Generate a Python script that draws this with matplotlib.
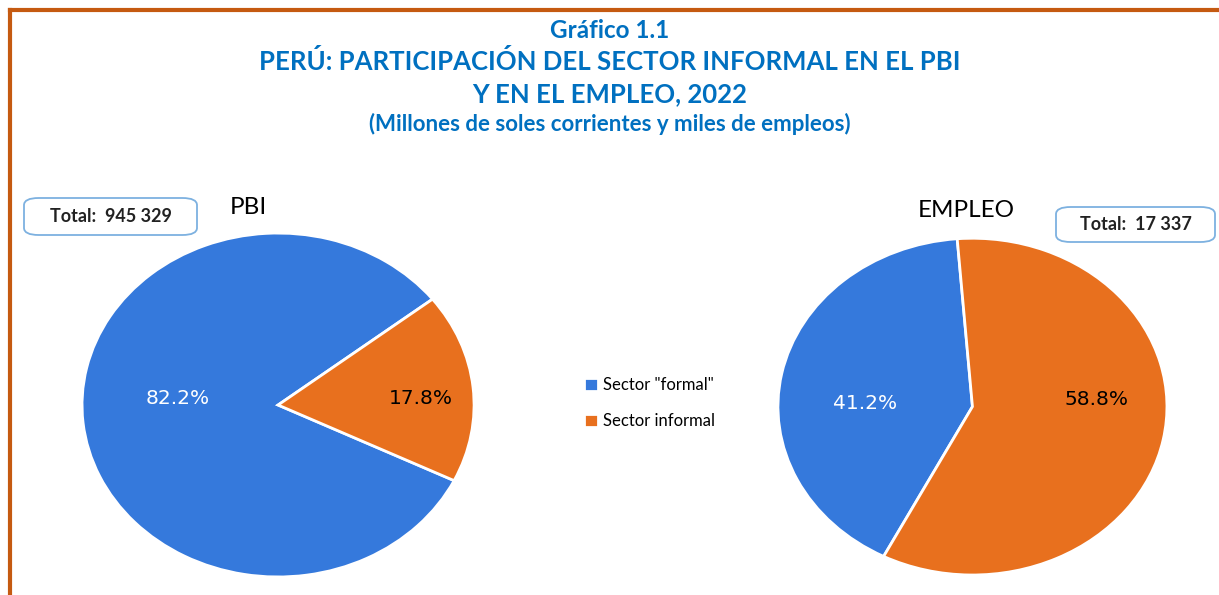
import matplotlib.pyplot as plt
from matplotlib.patches import FancyBboxPatch
from matplotlib.lines import Line2D

# datos
sectores = ['Sector "formal"', 'Sector informal']
pbi_pct = [82.2, 17.8]
empleo_pct = [41.2, 58.8]
pbi_total = "945 329"
empleo_total = "17 337"

colores = ['#3579DC', '#E8701E']
azul_titulo = '#0070C0'
naranja_borde = '#C55A11'

fig = plt.figure(figsize=(12.19, 5.95), dpi=100)

# marco naranja (izquierda y arriba)
fig.add_artist(Line2D([0.0082, 0.0082], [0, 0.983], color=naranja_borde, lw=3, transform=fig.transFigure))
fig.add_artist(Line2D([0.0082, 1.0], [0.983, 0.983], color=naranja_borde, lw=3, transform=fig.transFigure))

# titulos
fig.text(0.5, 0.948, "Gráfico 1.1", ha='center', va='center', color=azul_titulo,
         fontsize=17.5, fontweight='bold', family='Lato')
fig.text(0.5, 0.896, "PERÚ: PARTICIPACIÓN DEL SECTOR INFORMAL EN EL PBI", ha='center', va='center',
         color=azul_titulo, fontsize=18.5, fontweight='bold', family='Lato')
fig.text(0.5, 0.841, "Y EN EL EMPLEO, 2022", ha='center', va='center',
         color=azul_titulo, fontsize=18.5, fontweight='bold', family='Lato')
fig.text(0.5, 0.792, "(Millones de soles corrientes y miles de empleos)", ha='center', va='center',
         color=azul_titulo, fontsize=16, fontweight='bold', family='Lato')


def pastel(rect, valores, inicio, pos_etiquetas):
    ax = fig.add_axes(rect)
    wedges, _, autotexts = ax.pie(valores, colors=colores, startangle=inicio, counterclock=True,
                                  autopct='%1.1f%%', pctdistance=0.6,
                                  wedgeprops=dict(edgecolor='white', linewidth=2))
    ax.set_aspect('auto')
    ax.set_xlim(-1.0, 1.0)
    ax.set_ylim(-1.0, 1.0)
    ax.axis('off')
    for t, c, p in zip(autotexts, ['white', 'black'], pos_etiquetas):
        t.set_color(c)
        t.set_fontsize(14.5)
        t.set_position(p)
    return ax, wedges


ax1, wedges = pastel([0.0673, 0.0303, 0.3216, 0.578], pbi_pct, 38,
                     [(-0.51, 0.04), (0.73, 0.035)])
ax2, _ = pastel([0.6382, 0.0336, 0.3191, 0.566], empleo_pct, 94.5,
                [(-0.55, 0.02), (0.64, 0.04)])

# titulos de cada pastel
fig.text(0.2035, 0.652, "PBI", ha='center', va='center', fontsize=17.5, family='Lato')
fig.text(0.793, 0.647, "EMPLEO", ha='center', va='center', fontsize=17.5, family='Lato')


def caja_total(x0, y0, w, h, texto):
    caja = FancyBboxPatch((x0, y0), w, h, boxstyle="round,pad=0,rounding_size=0.012",
                          transform=fig.transFigure, facecolor='white',
                          edgecolor='#7DB1E0', linewidth=1.3)
    fig.add_artist(caja)
    fig.text(x0 + w / 2, y0 + h / 2, texto, ha='center', va='center',
             fontsize=13, fontweight='bold', family='Lato', color='#222222')


caja_total(24 / 1219, 1 - 235 / 595, 173 / 1219, 37 / 595, "Total:  " + pbi_total)
caja_total(1056 / 1219, 1 - 242 / 595, 159 / 1219, 35 / 595, "Total:  " + empleo_total)

# leyenda
fig.legend(wedges, sectores, loc='center', bbox_to_anchor=(0.533, 0.322), frameon=False,
           handlelength=0.85, handleheight=0.85, handletextpad=0.3, labelspacing=1.2,
           prop=dict(family='Lato', size=12))

fig.savefig('out.png', dpi=100)
